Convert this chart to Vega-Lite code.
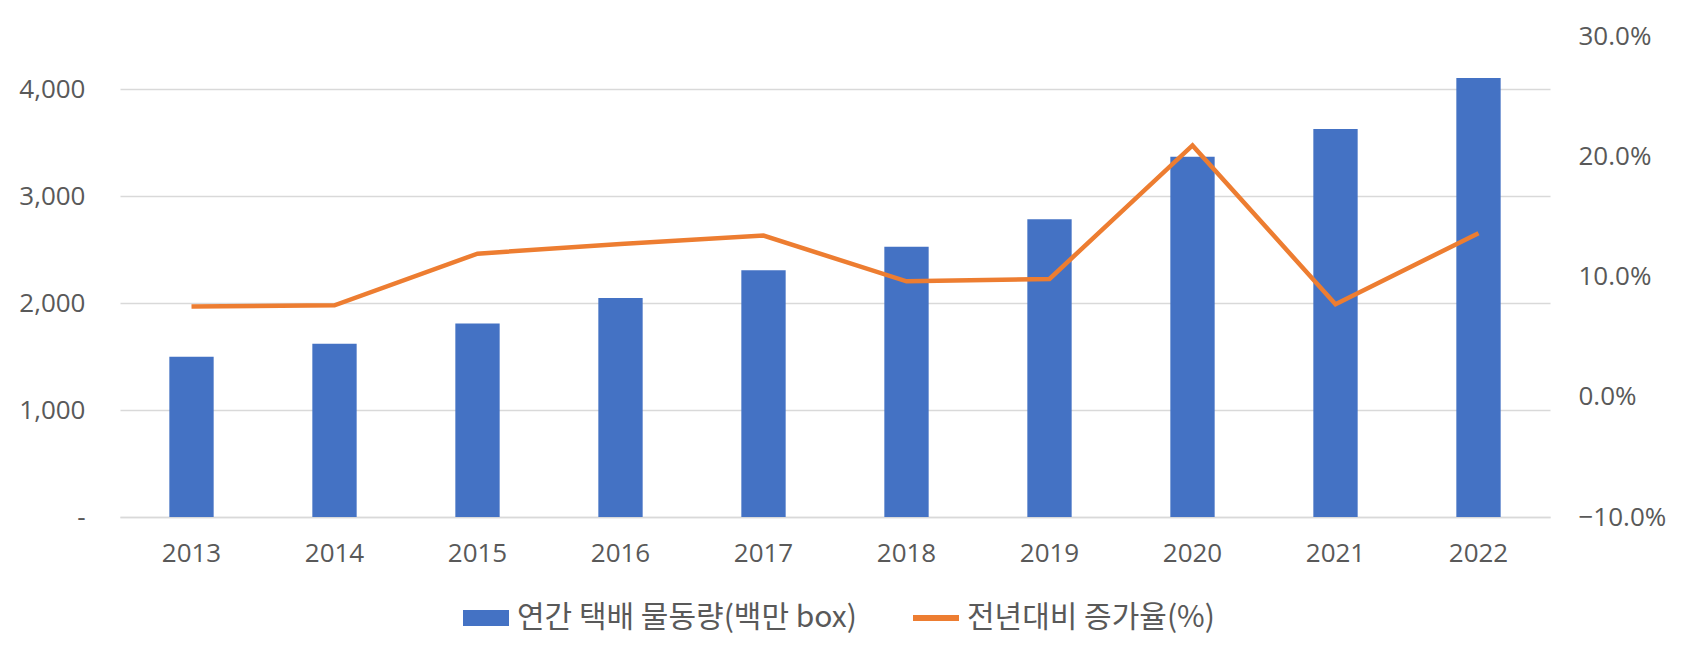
{
  "$schema": "https://vega.github.io/schema/vega-lite/v6.json",
  "width": 1430,
  "height": 481,
  "autosize": {"type": "none"},
  "padding": {"left": 120, "top": 36, "right": 132, "bottom": 132},
  "background": "white",
  "config": {
    "view": {"stroke": null},
    "font": "Open Sans"
  },
  "data": {
    "values": [
      {"year": "2013", "volume": 1500, "growth": 0.075},
      {"year": "2014", "volume": 1620, "growth": 0.076},
      {"year": "2015", "volume": 1810, "growth": 0.119},
      {"year": "2016", "volume": 2049, "growth": 0.127},
      {"year": "2017", "volume": 2308, "growth": 0.134},
      {"year": "2018", "volume": 2528, "growth": 0.096},
      {"year": "2019", "volume": 2786, "growth": 0.098},
      {"year": "2020", "volume": 3371, "growth": 0.209},
      {"year": "2021", "volume": 3629, "growth": 0.077},
      {"year": "2022", "volume": 4108, "growth": 0.136}
    ]
  },
  "encoding": {
    "x": {
      "field": "year",
      "type": "ordinal",
      "scale": {"paddingInner": 0.69, "paddingOuter": 0.345},
      "axis": {
        "title": null,
        "labelAngle": 0,
        "labelFont": "Open Sans",
        "labelFontSize": 26,
        "labelColor": "#595959",
        "ticks": false,
        "domainColor": "#d9d9d9",
        "domainWidth": 1.5,
        "labelPadding": 23
      }
    }
  },
  "layer": [
    {
      "mark": {"type": "bar"},
      "encoding": {
        "y": {
          "field": "volume",
          "type": "quantitative",
          "scale": {"domain": [0, 4500], "nice": false},
          "axis": {
            "title": null,
            "values": [0, 1000, 2000, 3000, 4000],
            "labelExpr": "datum.value == 0 ? '-' : format(datum.value, ',')",
            "grid": true,
            "gridColor": "#d9d9d9",
            "gridWidth": 1.5,
            "domain": false,
            "ticks": false,
            "labelPadding": 35,
            "labelFont": "Open Sans",
            "labelFontSize": 26,
            "labelColor": "#595959"
          }
        },
        "color": {
          "datum": "연간 택배 물동량(백만 box)",
          "type": "nominal",
          "scale": {
            "domain": ["연간 택배 물동량(백만 box)", "전년대비 증가율(%)"],
            "range": ["#4472C4", "#ED7D31"]
          },
          "legend": {
            "orient": "none",
            "legendX": 343,
            "legendY": 559,
            "direction": "horizontal",
            "title": null,
            "labelFont": "Noto Sans CJK KR",
            "labelFontSize": 30,
            "labelColor": "#595959",
            "labelLimit": 0,
            "symbolType": "M-1,-0.35H1V0.35H-1Z",
            "symbolSize": 2116,
            "labelOffset": 8,
            "columnPadding": 56,
            "encode": {
              "symbols": {
                "update": {
                  "shape": {"signal": "datum.value == '전년대비 증가율(%)' ? 'M-1,-0.13H1V0.13H-1Z' : 'M-1,-0.35H1V0.35H-1Z'"},
                  "fill": {"scale": "color", "field": "value"},
                  "strokeWidth": {"value": 0},
                  "opacity": {"value": 1}
                }
              }
            }
          }
        }
      }
    },
    {
      "mark": {"type": "line", "strokeWidth": 4.5},
      "encoding": {
        "y": {
          "field": "growth",
          "type": "quantitative",
          "scale": {"domain": [-0.1, 0.3], "nice": false},
          "axis": {
            "orient": "right",
            "title": null,
            "format": ".1%",
            "values": [-0.1, 0, 0.1, 0.2, 0.3],
            "grid": false,
            "domain": false,
            "ticks": false,
            "labelPadding": 28,
            "labelFont": "Open Sans",
            "labelFontSize": 26,
            "labelColor": "#595959"
          }
        },
        "color": {"datum": "전년대비 증가율(%)", "type": "nominal"}
      }
    }
  ],
  "resolve": {"scale": {"y": "independent"}}
}
